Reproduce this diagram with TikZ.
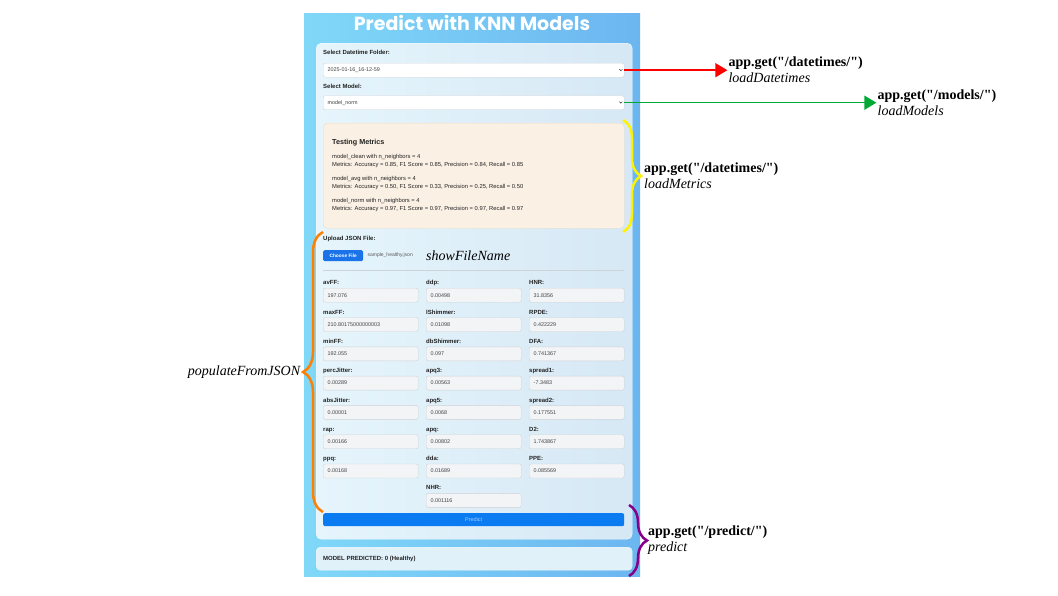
\documentclass[tikz,border=0pt]{standalone}
\usepackage{fontspec}
\setmainfont{Liberation Serif}[Ligatures=TeXOff]
\setsansfont{Liberation Sans}
\newfontfamily\titlefont{Poppins}
\usetikzlibrary{positioning, arrows.meta, decorations.pathreplacing, calc}

\definecolor{pageL}{HTML}{80D8F8}
\definecolor{pageR}{HTML}{6CB6F0}
\definecolor{cardL}{HTML}{E6F5FC}
\definecolor{cardR}{HTML}{D6E8F5}
\definecolor{metricsfill}{HTML}{FAF0E4}
\definecolor{metricsline}{HTML}{EEDCC2}
\definecolor{inputfill}{HTML}{F2F4F6}
\definecolor{inputline}{HTML}{CDD3D8}
\definecolor{btnblue}{HTML}{0B7BF2}
\definecolor{filebtn}{HTML}{1A73E8}
\definecolor{btntext}{HTML}{A6C8F4}
\definecolor{uitext}{HTML}{222222}
\definecolor{arrowred}{HTML}{FF0000}
\definecolor{arrowgreen}{HTML}{00AA33}
\definecolor{braceyellow}{HTML}{FFF200}
\definecolor{braceorange}{HTML}{FF8000}
\definecolor{bracepurple}{HTML}{880088}

\newcommand{\dq}{\char34}

\begin{document}
\begin{tikzpicture}[
    x=1pt, y=-1pt,
    node distance=14.9pt and 7.6pt,
    ui/.style={font=\sffamily\fontsize{5.8}{6.5}\selectfont, text=uitext, inner sep=0pt},
    uilabel/.style={font=\sffamily\bfseries\fontsize{6}{7}\selectfont, text=uitext, inner sep=0pt, text depth=0pt},
    selectbox/.style={rectangle, draw=inputline, fill=white, rounded corners=2pt, minimum height=14pt, text width=292pt, inner xsep=4.5pt, align=left, font=\sffamily\fontsize{5.4}{6}\selectfont, text=uitext!85},
    field/.style={rectangle, draw=inputline, fill=inputfill, rounded corners=2pt, minimum height=14pt, text width=86pt, inner xsep=4.5pt, align=left, font=\sffamily\fontsize{5.4}{6}\selectfont, text=uitext!85},
    flabel/.style={uilabel, above right=3pt and 0pt of #1.north west},
    api/.style={font=\fontsize{14}{16}\selectfont, align=left, inner sep=1pt},
    arrow/.style={-{Triangle[length=12pt,width=14pt]}, line width=1.5pt},
    curly/.style={decorate, decoration={brace, amplitude=#1}, line width=2.5pt}
]
\fill[white] (0,0) rectangle (1058,595);
\useasboundingbox (0,0) rectangle (1058,595);

% page and cards
\node[rectangle, left color=pageL, right color=pageR, minimum width=336pt, minimum height=563pt, anchor=north west, inner sep=0pt] (page) at (304,13) {};
\node[font=\titlefont\bfseries\fontsize{19}{22}\selectfont, text=white] (title) at (472,23) {Predict with KNN Models};
\node[rectangle, left color=cardL, right color=cardR, draw=white!70!cardL, rounded corners=5pt, minimum width=316pt, minimum height=496pt, anchor=north west, inner sep=0pt] (card) at (316,43) {};
\node[rectangle, fill=cardL!70!cardR, draw=white!60!cardR, rounded corners=4pt, minimum width=316pt, minimum height=23pt, anchor=north west, inner sep=0pt] (result) at (316,547) {};
\node[uilabel, anchor=west] (predicted) at (323,558.5) {MODEL PREDICTED: 0 (Healthy)};

% selects
\node[selectbox, anchor=north west] (sel1) at (323,63) {2025-01-16\_16-12-59};
\node[uilabel, above right=8pt and 0pt of sel1.north west] (sel1label) {Select Datetime Folder:};
\node[selectbox, anchor=north west] (sel2) at (323,95.5) {model\_norm};
\node[uilabel, above right=7pt and 0pt of sel2.north west] (sel2label) {Select Model:};
\draw[uitext, line width=0.5pt] ($(sel1.east)+(-5,-1)$) -- ++(1.5,1.5) -- ++(1.5,-1.5);
\draw[uitext, line width=0.5pt] ($(sel2.east)+(-5,-1)$) -- ++(1.5,1.5) -- ++(1.5,-1.5);

% metrics
\node[rectangle, fill=metricsfill, draw=metricsline, rounded corners=4pt, minimum width=301pt, minimum height=105pt, anchor=north west, inner sep=0pt] (metrics) at (323,123) {};
\node[uilabel, font=\sffamily\bfseries\fontsize{7.2}{8}\selectfont, anchor=base west] (mtitle) at (332,144.5) {Testing Metrics};
\node[ui, anchor=base west] (m1) at (332,158.5) {model\_clean with n\_neighbors = 4};
\node[ui, anchor=base west] (m1v) at (332,166.5) {Metrics: Accuracy = 0.85, F1 Score = 0.85, Precision = 0.84, Recall = 0.85};
\node[ui, anchor=base west] (m2) at (332,180.5) {model\_avg with n\_neighbors = 4};
\node[ui, anchor=base west] (m2v) at (332,188.5) {Metrics: Accuracy = 0.50, F1 Score = 0.33, Precision = 0.25, Recall = 0.50};
\node[ui, anchor=base west] (m3) at (332,202.5) {model\_norm with n\_neighbors = 4};
\node[ui, anchor=base west] (m3v) at (332,210.5) {Metrics: Accuracy = 0.97, F1 Score = 0.97, Precision = 0.97, Recall = 0.97};

% upload
\node[rectangle, fill=filebtn, rounded corners=1.5pt, minimum width=40pt, minimum height=11pt, inner sep=0pt, anchor=north west, text=white, font=\sffamily\bfseries\fontsize{4.8}{5}\selectfont] (choose) at (323,250) {Choose File};
\node[uilabel, above right=9pt and 0pt of choose.north west] (uploadlabel) {Upload JSON File:};
\node[ui, right=4pt of choose, font=\sffamily\fontsize{5}{6}\selectfont, text=uitext!75] (fname) {sample\_healthy.json};
\node[right=13pt of fname, font=\itshape\fontsize{14}{16}\selectfont, inner sep=0pt] (showname) {showFileName};
\draw[inputline, line width=0.6pt] (323,270) -- (624,270);

% first column
\node[field, anchor=north west] (avff) at (323,288) {197.076};
\node[field, below=of avff] (maxff) {210.80175000000003};
\node[field, below=of maxff] (minff) {192.055};
\node[field, below=of minff] (percjitter) {0.00289};
\node[field, below=of percjitter] (absjitter) {0.00001};
\node[field, below=of absjitter] (rap) {0.00166};
\node[field, below=of rap] (ppq) {0.00168};
% second column
\node[field, right=of avff] (ddp) {0.00498};
\node[field, below=of ddp] (lshimmer) {0.01098};
\node[field, below=of lshimmer] (dbshimmer) {0.097};
\node[field, below=of dbshimmer] (apqthree) {0.00563};
\node[field, below=of apqthree] (apqfive) {0.0068};
\node[field, below=of apqfive] (apq) {0.00802};
\node[field, below=of apq] (dda) {0.01689};
\node[field, below=of dda] (nhr) {0.001116};
% third column
\node[field, right=of ddp] (hnr) {31.8356};
\node[field, below=of hnr] (rpde) {0.422229};
\node[field, below=of rpde] (dfa) {0.741367};
\node[field, below=of dfa] (spreadone) {-7.3483};
\node[field, below=of spreadone] (spreadtwo) {0.177551};
\node[field, below=of spreadtwo] (dtwo) {1.743867};
\node[field, below=of dtwo] (ppe) {0.085569};

\node[flabel=avff] {avFF:};
\node[flabel=maxff] {maxFF:};
\node[flabel=minff] {minFF:};
\node[flabel=percjitter] {percJitter:};
\node[flabel=absjitter] {absJitter:};
\node[flabel=rap] {rap:};
\node[flabel=ppq] {ppq:};
\node[flabel=ddp] {ddp:};
\node[flabel=lshimmer] {lShimmer:};
\node[flabel=dbshimmer] {dbShimmer:};
\node[flabel=apqthree] {apq3:};
\node[flabel=apqfive] {apq5:};
\node[flabel=apq] {apq:};
\node[flabel=dda] {dda:};
\node[flabel=nhr] {NHR:};
\node[flabel=hnr] {HNR:};
\node[flabel=rpde] {RPDE:};
\node[flabel=dfa] {DFA:};
\node[flabel=spreadone] {spread1:};
\node[flabel=spreadtwo] {spread2:};
\node[flabel=dtwo] {D2:};
\node[flabel=ppe] {PPE:};

\node[rectangle, fill=btnblue, rounded corners=2pt, minimum width=301pt, minimum height=13pt, inner sep=0pt, anchor=north west, text=btntext, font=\sffamily\fontsize{5.5}{6}\selectfont] (predictbtn) at (323,513) {Predict};

% annotations
\node[api, right=103pt of sel1] (apidates) {\textbf{app.get(\dq/datetimes/\dq)}\\\textit{loadDatetimes}};
\node[api, right=252pt of sel2] (apimodels) {\textbf{app.get(\dq/models/\dq)}\\\textit{loadModels}};
\node[api, anchor=west] (apimetrics) at (643,176) {\textbf{app.get(\dq/datetimes/\dq)}\\\textit{loadMetrics}};
\node[api, anchor=west] (apipredict) at (647,540) {\textbf{app.get(\dq/predict/\dq)}\\\textit{predict}};
\node[api, anchor=east] (populate) at (302,372) {\textit{populateFromJSON}};

\draw[arrow, arrowred] (sel1.east) -- (apidates.west);
\draw[arrow, arrowgreen] (sel2.east) -- (apimodels.west);

\coordinate (ytop) at (623,120);
\coordinate (ybot) at (623,232);
\coordinate (otop) at (323,232);
\coordinate (obot) at (323,512);
\coordinate (ptop) at (629,505);
\coordinate (pbot) at (629,576);
\draw[curly=18pt, braceyellow] (ytop) -- (ybot);
\draw[curly=20pt, braceorange] (obot) -- (otop);
\draw[curly=18pt, bracepurple] (ptop) -- (pbot);

\end{tikzpicture}
\end{document}
